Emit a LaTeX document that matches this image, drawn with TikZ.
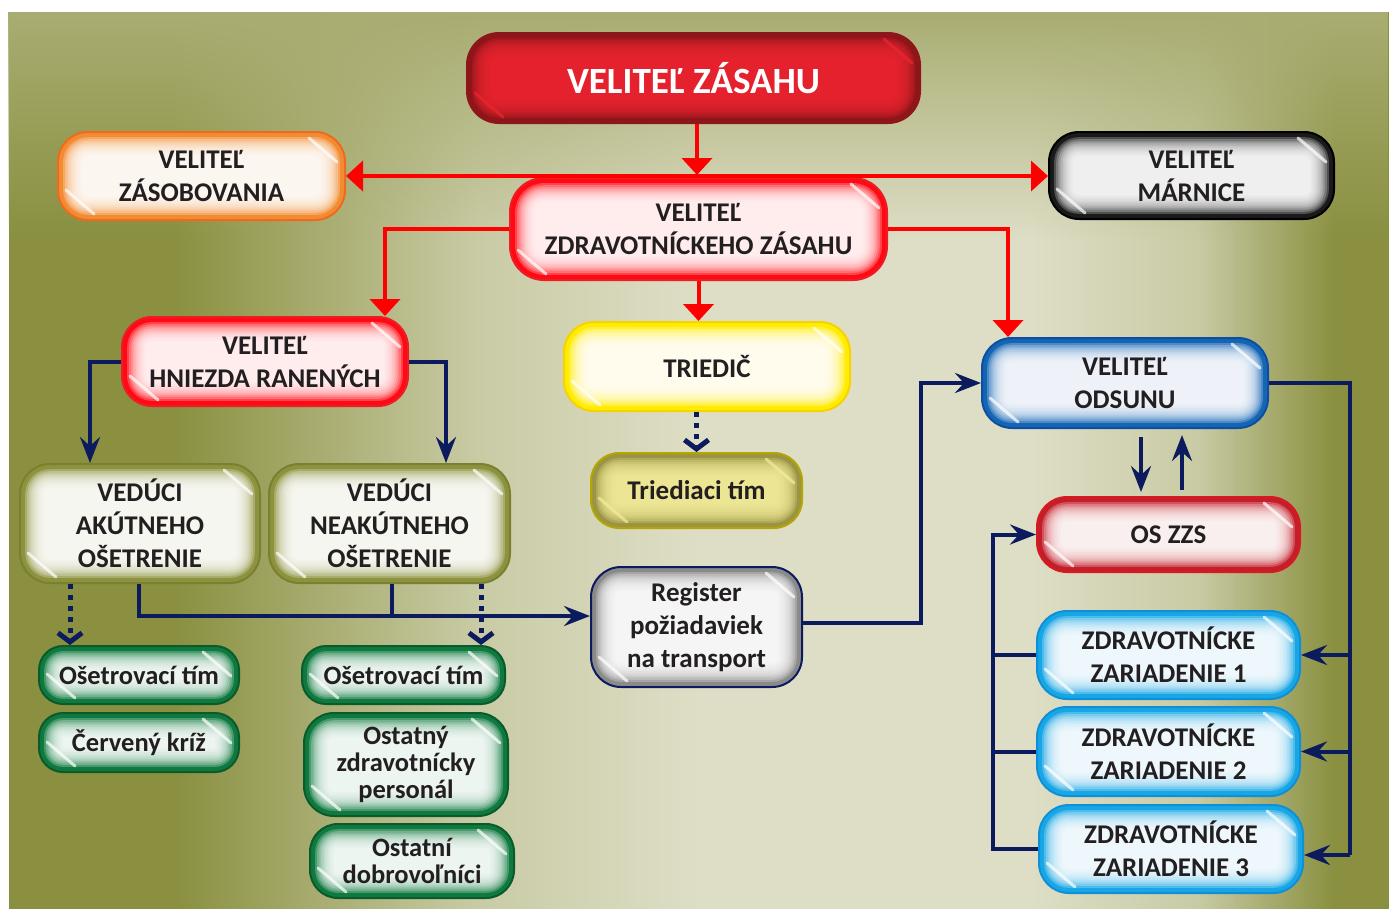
\documentclass[tikz,border=0pt]{standalone}
\usepackage{fontspec}
\setmainfont{Carlito}
\usetikzlibrary{arrows.meta,fadings}
\definecolor{olv}{HTML}{8A9040}
\definecolor{olvm}{HTML}{C9CBA5}
\definecolor{lite}{HTML}{DEDEC6}
\definecolor{topol}{HTML}{A9AD72}
\definecolor{txt}{HTML}{231F20}
\definecolor{navy}{HTML}{0C1A5E}
\definecolor{arrred}{HTML}{FF0000}
\definecolor{orgE}{HTML}{F28C33}\definecolor{orgB}{HTML}{EE6A1F}
\definecolor{redE}{HTML}{FF0A14}\definecolor{redB}{HTML}{EE1C25}
\definecolor{ttlE}{HTML}{8E1519}\definecolor{ttlI}{HTML}{EC2530}
\definecolor{blkE}{HTML}{1A1A1A}
\definecolor{yelE}{HTML}{FFEC00}\definecolor{yelB}{HTML}{F6D300}
\definecolor{khaE}{HTML}{9B9444}\definecolor{khaI}{HTML}{F3EC9A}\definecolor{khaB}{HTML}{B3A600}
\definecolor{gryE}{HTML}{8A8A8A}
\definecolor{bluE}{HTML}{1565B5}\definecolor{bluB}{HTML}{0D4EA0}
\definecolor{osE}{HTML}{C41E2A}\definecolor{osB}{HTML}{D71920}
\definecolor{cyaE}{HTML}{17A6E6}\definecolor{cyaB}{HTML}{0E8FD8}
\definecolor{olbE}{HTML}{8C923D}\definecolor{olbB}{HTML}{7A8030}
\definecolor{grnE}{HTML}{0F7A3F}\definecolor{grnB}{HTML}{0A5A2C}
\pgfdeclarehorizontalshading{bgsh}{100bp}{color(0bp)=(olv); color(25bp)=(olv); color(31bp)=(olv); color(42bp)=(olvm); color(50bp)=(lite); color(62bp)=(lite); color(68bp)=(olvm); color(73bp)=(olv); color(75bp)=(olv); color(100bp)=(olv)}
\tikzfading[name=fadedown, top color=transparent!0, bottom color=transparent!100]
\newcommand{\labfont}{\bfseries\fontsize{27}{33}\selectfont}
\newcommand{\smfont}{\bfseries\fontsize{26.5}{27}\selectfont}
\tikzset{
  gb/.style n args={4}{rectangle, rounded corners=#3pt, fill=#1, draw=#2, line width=2pt,
    inner sep=0pt, align=center, text=txt, font=\labfont,
    path picture={
      \foreach \i in {1,...,10}{
        \pgfmathsetmacro\ins{3+\i*2.1}
        \pgfmathsetmacro\rr{max(#3-\ins,1)}
        \fill[#4, opacity=0.24, rounded corners=\rr pt]
          ([shift={(\ins pt,-\ins pt)}]path picture bounding box.north west) rectangle
          ([shift={(-\ins pt,\ins pt)}]path picture bounding box.south east);
      }
      \draw[#4, line width=3pt, opacity=0.7, line cap=round]
        ([shift={(-36pt,-6pt)}]path picture bounding box.north east) -- ([shift={(-8pt,-30pt)}]path picture bounding box.north east);
      \draw[#4, line width=3pt, opacity=0.7, line cap=round]
        ([shift={(36pt,6pt)}]path picture bounding box.south west) -- ([shift={(8pt,30pt)}]path picture bounding box.south west);
    }},
  rln/.style={draw=arrred, line width=4pt},
  rarr/.style={rln, -{Triangle[length=17pt,width=30pt]}},
  nln/.style={draw=navy, line width=4pt},
  narr/.style={nln, -{Stealth[length=26pt,width=20pt,inset=9pt]}},
  ndot/.style={draw=navy, line width=5pt, dash pattern=on 5pt off 6pt, -{Straight Barb[length=9pt,width=24pt]}},
}
\begin{document}
\begin{tikzpicture}[x=1pt,y=-1pt]
\useasboundingbox (0,0) rectangle (1389,908);
\fill[white] (0,0) rectangle (1389,908);
\shade[shading=bgsh] (9,12) rectangle (1389,908);
\fill[topol, path fading=fadedown] (9,12) rectangle (1389,240);

% nodes
\node[gb={ttlE}{ttlE}{32}{ttlI}, minimum width=453pt, minimum height=90pt, text=white, font=\bfseries\fontsize{37}{40}\selectfont] (vz) at (693.5,78) {VELITEĽ ZÁSAHU};
\node[gb={orgE}{orgB}{30}{white}, minimum width=287pt, minimum height=88pt] (zas) at (201.5,176) {VELITEĽ\\ZÁSOBOVANIA};
\node[gb={blkE}{black}{30}{white}, minimum width=285pt, minimum height=87pt] (mar) at (1191.5,175.5) {VELITEĽ\\MÁRNICE};
\node[gb={redE}{redB}{34}{white}, minimum width=377pt, minimum height=102pt] (vzz) at (698.5,229) {VELITEĽ\\ZDRAVOTNÍCKEHO ZÁSAHU};
\node[gb={redE}{redB}{30}{white}, minimum width=286pt, minimum height=89pt] (hr) at (265,361.5) {VELITEĽ\\HNIEZDA RANENÝCH};
\node[gb={yelE}{yelB}{30}{white}, minimum width=286pt, minimum height=89pt] (tri) at (707,366.5) {TRIEDIČ};
\node[gb={khaE}{khaB}{28}{khaI}, minimum width=211pt, minimum height=75pt] (tt) at (696.5,490.5) {Triediaci tím};
\node[gb={gryE}{navy}{30}{white}, minimum width=211pt, minimum height=120pt] (reg) at (696.5,627) {Register\\požiadaviek\\na transport};
\node[gb={bluE}{bluB}{30}{white}, minimum width=286pt, minimum height=90pt] (vo) at (1125,383) {VELITEĽ\\ODSUNU};
\node[gb={osE}{osB}{30}{white}, minimum width=263pt, minimum height=75pt] (os) at (1168.5,534.5) {OS ZZS};
\node[gb={cyaE}{cyaB}{30}{white}, minimum width=263pt, minimum height=88pt] (z1) at (1168.5,655) {ZDRAVOTNÍCKE\\ZARIADENIE 1};
\node[gb={cyaE}{cyaB}{30}{white}, minimum width=263pt, minimum height=89pt] (z2) at (1168.5,751.5) {ZDRAVOTNÍCKE\\ZARIADENIE 2};
\node[gb={cyaE}{cyaB}{30}{white}, minimum width=264pt, minimum height=88pt] (z3) at (1171,849) {ZDRAVOTNÍCKE\\ZARIADENIE 3};
\node[gb={olbE}{olbB}{30}{white}, minimum width=240pt, minimum height=119pt] (va) at (140,523.5) {VEDÚCI\\AKÚTNEHO\\OŠETRENIE};
\node[gb={olbE}{olbB}{30}{white}, minimum width=241pt, minimum height=119pt] (vna) at (389.5,523.5) {VEDÚCI\\NEAKÚTNEHO\\OŠETRENIE};
\node[gb={grnE}{grnB}{24}{white}, minimum width=200pt, minimum height=58pt, font=\smfont] (ot1) at (139,675) {Ošetrovací tím};
\node[gb={grnE}{grnB}{24}{white}, minimum width=200pt, minimum height=59pt, font=\smfont] (ck) at (139,742.5) {Červený kríž};
\node[gb={grnE}{grnB}{24}{white}, minimum width=203pt, minimum height=58pt, font=\smfont] (ot2) at (403.5,675) {Ošetrovací tím};
\node[gb={grnE}{grnB}{30}{white}, minimum width=204pt, minimum height=103pt, font=\smfont] (ost) at (406,764.5) {Ostatný\\zdravotnícky\\personál};
\node[gb={grnE}{grnB}{28}{white}, minimum width=204pt, minimum height=74pt, font=\smfont] (dob) at (412,861) {Ostatní\\dobrovoľníci};

% helper coordinates
\coordinate (bus) at (697,175);
\coordinate (lbus) at (993,534.5);
\coordinate (rbus) at (1350,855);
\coordinate (regbus) at (392,616);
\coordinate (d1) at ([xshift=-69pt]ot1.north);
\coordinate (d2) at ([xshift=77.5pt]ot2.north);
\coordinate (s1) at ([xshift=-1pt]va.south);

% red connectors
\draw[rarr] (vz.south -| bus) -- (bus);
\draw[rln, {Triangle[length=17pt,width=30pt]}-{Triangle[length=17pt,width=30pt]}] (zas.east) -- (zas.east -| mar.west);
\draw[rarr] (vzz.west) -| ([xshift=120pt]hr.north);
\draw[rarr] (vzz.east) -| ([xshift=-117pt]vo.north);
\draw[rarr] (vzz.south) -- (vzz.south |- tri.north);

% navy connectors
\draw[narr] (hr.west) -| ([xshift=-50pt]va.north);
\draw[narr] (hr.east) -| ([xshift=56.5pt]vna.north);
\draw[ndot] (d1 |- va.south) -- (d1);
\draw[ndot] (d2 |- vna.south) -- (d2);
\draw[ndot] (tt.north |- tri.south) -- (tt.north);
\draw[narr] (s1) |- ([yshift=11pt]reg.west);
\draw[nln] (vna.south -| regbus) -- (regbus);
\draw[narr] ([yshift=4pt]reg.east) -- ++(118,0) |- (vo.west);
\draw[nln] (vo.east) -| (rbus);
\draw[narr] (z1.east -| rbus) -- (z1.east);
\draw[narr] (z2.east -| rbus) -- (z2.east);
\draw[narr] (rbus) -- (rbus -| z3.east);
\draw[narr] (z3.west) -| (lbus) -- (os.west);
\draw[nln] (z1.west) -- (z1.west -| lbus);
\draw[nln] (z2.west) -- (z2.west -| lbus);
\draw[narr] ([shift={(16pt,-8pt)}]vo.south) -- ++(0,55);
\draw[narr] ([shift={(13.5pt,6pt)}]os.north) -- ++(0,-55);
\end{tikzpicture}
\end{document}
